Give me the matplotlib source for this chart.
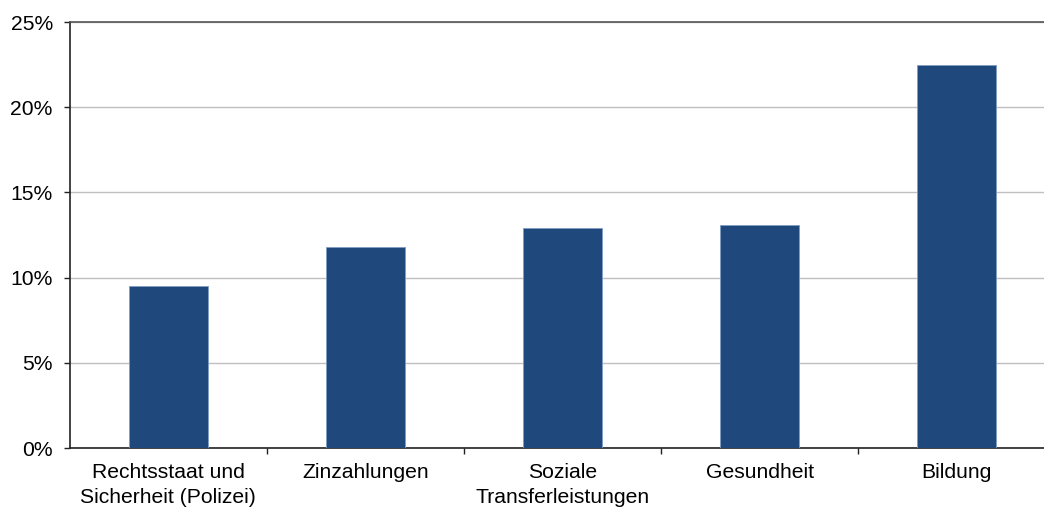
import matplotlib
matplotlib.use('Agg')
import numpy as np
import matplotlib.pyplot as plt
from matplotlib.ticker import FuncFormatter, FixedLocator

categories = ['Rechtsstaat und\nSicherheit (Polizei)', 'Zinzahlungen',
              'Soziale\nTransferleistungen', 'Gesundheit', 'Bildung']
values = [9.5, 11.8, 12.9, 13.1, 22.45]
yticks = [0, 5, 10, 15, 20, 25]

plt.rcParams['font.family'] = ['Liberation Sans', 'DejaVu Sans']

fig = plt.figure(figsize=(10.44, 5.09), dpi=100)
ax = fig.add_axes([69.5/1044, 1-448/509, 986/1044, 426/509])

x = np.arange(len(categories))
ax.bar(x, values, width=0.4, color='#1f497d', edgecolor='#7f9cc4', linewidth=0.6, zorder=3)

ax.set_xlim(-0.5, len(categories)-0.5)
ax.set_ylim(0, 25)
ax.set_yticks(yticks)
ax.yaxis.set_major_formatter(FuncFormatter(lambda v, p: '%d%%' % v))
ax.grid(axis='y', color='#c0c0c0', linewidth=1, zorder=0)

ax.set_xticks(x)
ax.set_xticklabels(categories, fontsize=15.2, linespacing=1.4)
ax.tick_params(axis='x', length=0, pad=11)
ax.xaxis.set_minor_locator(FixedLocator(np.arange(0.5, len(categories)-0.5, 1)))
ax.tick_params(axis='x', which='minor', length=4.5, width=1, color='#222222')
ax.tick_params(axis='y', labelsize=15.2, length=4, width=1, color='#222222', pad=8)

for s in ['left', 'bottom']:
    ax.spines[s].set_color('#222222')
    ax.spines[s].set_linewidth(1.2)
ax.spines['top'].set_color('#555555')
ax.spines['top'].set_linewidth(1.2)
ax.spines['right'].set_visible(False)

fig.savefig('out.png', dpi=100)
